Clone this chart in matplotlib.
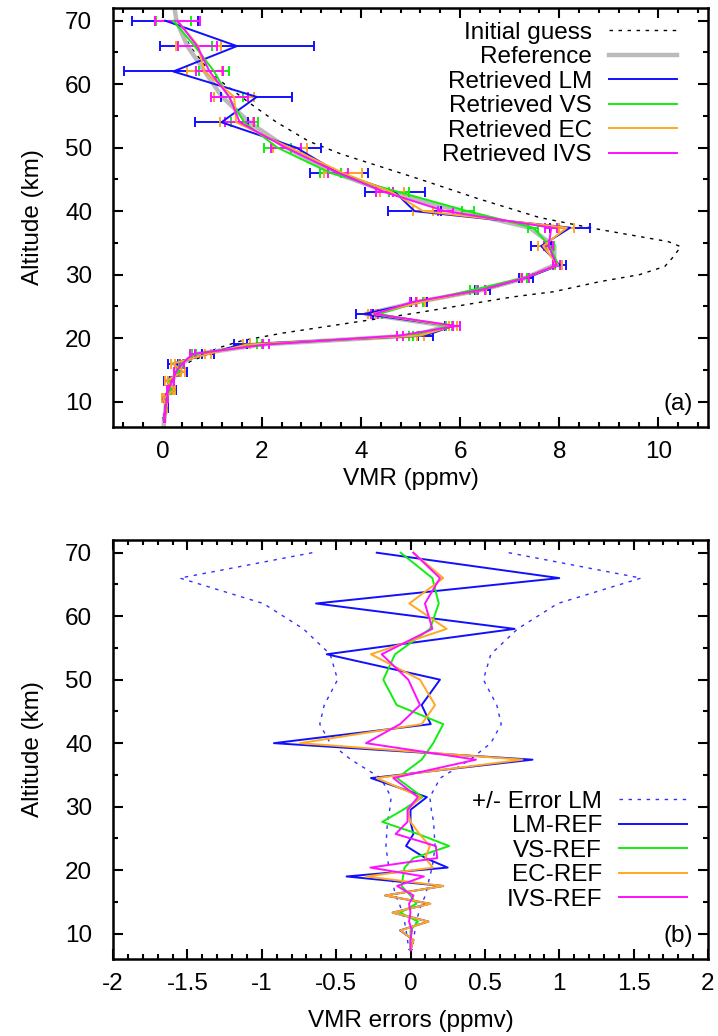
import numpy as np
import matplotlib
matplotlib.use('Agg')
from matplotlib import pyplot as plt
from matplotlib.ticker import MultipleLocator

plt.rcParams['font.family'] = ['Liberation Sans', 'DejaVu Sans']
plt.rcParams['axes.unicode_minus'] = False

# retrieval altitude grid (km)
alt = [70, 66, 62, 58, 54, 50, 46, 43, 40, 37.4, 34.5, 31.5, 29.5, 27.6, 25.7, 23.8,
       21.9, 20.4, 19.0, 17.5, 16.0, 14.7, 13.3, 11.9, 10.5, 9.0, 7.4]

# reference profile (ppmv), with its two end points above/below the grid
ref_alt = [74] + alt + [6]
ref_vmr = [0.2, 0.28, 0.5, 0.85, 1.2, 1.75, 2.5, 3.48, 4.55, 6.0, 7.4, 7.9, 7.9, 7.33,
           6.45, 5.15, 4.1, 5.75, 5.05, 2.0, 0.7, 0.38, 0.28, 0.2, 0.12, 0.08, 0.06,
           0.04, 0.02]

# initial guess
ig_alt = [72, 70, 66, 62, 60, 57, 54, 51, 49, 47, 45, 42, 39, 37.3, 36, 35.2, 34.4,
          32.8, 31.3, 30, 28.9, 27.3, 26.5, 25.2, 23.9, 22.3, 20.8, 19.6, 18.4, 17.1,
          16.3, 15, 13, 11, 9, 6]
ig_vmr = [0.22, 0.3, 0.55, 0.95, 1.25, 1.76, 2.3, 2.95, 3.6, 4.4, 5.2, 6.35, 7.6, 8.68,
          9.62, 10.2, 10.45, 10.3, 10.13, 9.62, 8.82, 7.88, 7.07, 6.06, 5.07, 3.7, 2.43,
          1.6, 1.1, 0.8, 0.55, 0.35, 0.2, 0.1, 0.06, 0.03]

# retrieved minus reference (ppmv)
d_lm = [-0.227, 1.0, -0.635, 0.70, -0.563, 0.198, 0.075, 0.136, -0.918, 0.82, -0.266,
        0.11, 0.0, 0.0, 0.02, -0.03, 0.1, 0.25, -0.43, 0.22, -0.17, 0.13, -0.12, 0.12,
        -0.07, 0.02, 0.0]
d_vs = [-0.066, 0.147, 0.19, 0.131, -0.104, -0.183, -0.093, 0.22, 0.153, 0.075, -0.09,
        0.08, -0.05, -0.19, 0.05, 0.26, 0.02, -0.04, -0.05, -0.06, 0.0, 0.04, -0.07, 0.05,
        0.0, 0.0, 0.0]
d_ec = [0.019, 0.22, -0.008, 0.243, -0.266, 0.064, 0.165, 0.075, -0.743, 0.753, -0.227,
        0.07, -0.02, 0.0, 0.06, 0.13, 0.1, 0.15, -0.3, 0.22, -0.17, 0.135, -0.12, 0.12,
        -0.067, 0.02, 0.0]
d_ivs = [0.019, 0.198, 0.097, 0.147, -0.194, -0.015, 0.064, -0.07, -0.299, 0.44, -0.116,
         0.05, -0.02, -0.02, -0.1, 0.17, 0.18, -0.27, 0.09, -0.09, 0.02, -0.01, 0.0,
         -0.01, 0.01, 0.0, 0.0]

# retrieval errors (ppmv)
err_lm = [0.66, 1.55, 0.99, 0.72, 0.54, 0.49, 0.58, 0.61, 0.54, 0.40, 0.2, 0.13, 0.14,
          0.155, 0.16, 0.165, 0.155, 0.145, 0.13, 0.115, 0.1, 0.075, 0.055, 0.04, 0.03,
          0.02, 0.01]
err_vs = [0.35, 0.35, 0.3, 0.3, 0.27, 0.28, 0.22, 0.2, 0.12, 0.1, 0.08, 0.06, 0.06, 0.06,
          0.06, 0.06, 0.06, 0.05, 0.05, 0.04, 0.04, 0.03, 0.03, 0.02, 0.02, 0.01, 0.01]
err_ec = [0.45, 0.45, 0.35, 0.4, 0.33, 0.34, 0.38, 0.25, 0.2, 0.15, 0.1, 0.08, 0.08, 0.08,
          0.08, 0.08, 0.08, 0.07, 0.07, 0.06, 0.05, 0.04, 0.03, 0.02, 0.02, 0.01, 0.01]
err_ivs = [0.45, 0.39, 0.27, 0.37, 0.29, 0.3, 0.2, 0.17, 0.15, 0.12, 0.09, 0.07, 0.07,
           0.07, 0.07, 0.07, 0.07, 0.06, 0.06, 0.05, 0.04, 0.035, 0.03, 0.02, 0.02, 0.01,
           0.01]

ref_on_grid = np.array(ref_vmr[1:-1])
runs = [
    ('LM', d_lm, err_lm, '#1010ff'),
    ('VS', d_vs, err_vs, '#10ee10'),
    ('EC', d_ec, err_ec, '#ffa820'),
    ('IVS', d_ivs, err_ivs, '#ff10ff'),
]

FS = 17.5


def style_axis(ax, xmaj, xmin):
    ax.set_ylim(6, 72)
    ax.yaxis.set_major_locator(MultipleLocator(10))
    ax.yaxis.set_minor_locator(MultipleLocator(5))
    ax.xaxis.set_major_locator(MultipleLocator(xmaj))
    ax.xaxis.set_minor_locator(MultipleLocator(xmin))
    ax.tick_params(which='both', direction='in', top=True, right=True, width=1.5,
                   labelsize=FS)
    ax.tick_params(axis='x', pad=10)
    ax.tick_params(axis='y', pad=15)
    ax.tick_params(which='major', length=7)
    ax.tick_params(which='minor', length=3.5)
    for s in ax.spines.values():
        s.set_linewidth(1.8)
    ax.set_ylabel('Altitude (km)', fontsize=FS, labelpad=15)


fig = plt.figure(figsize=(7.18, 10.36), dpi=100)
ax1 = fig.add_axes([113 / 718, 1 - 427 / 1036, 595 / 718, 419 / 1036])
ax2 = fig.add_axes([113 / 718, 1 - 959 / 1036, 595 / 718, 419 / 1036])

# (a) profiles
ax1.plot(ig_vmr, ig_alt, color='black', lw=1.0, ls=(0, (2.5, 4)), label='Initial guess')
ax1.plot(ref_vmr, ref_alt, color='#bbbbbb', lw=3.2, label='Reference')
for name, d, e, c in runs:
    vmr = ref_on_grid + np.array(d)
    ax1.errorbar(vmr, alt, xerr=e, color=c, lw=1.4, elinewidth=1.4, capsize=3.5,
                 capthick=1.4, label='Retrieved ' + name)

ax1.set_xlim(-1, 11)
style_axis(ax1, 2, 0.4)
ax1.set_xlabel('VMR (ppmv)', fontsize=FS, labelpad=4)
h, l = ax1.get_legend_handles_labels()
h = [hh[0] if hasattr(hh, 'lines') else hh for hh in h]
ax1.legend(h, l, loc='upper right', bbox_to_anchor=(0.948, 0.967), frameon=False,
           markerfirst=False, fontsize=FS, handlelength=2.8, handletextpad=0.7,
           labelspacing=0.1, borderpad=0, borderaxespad=0)
ax1.text(0.975, 0.055, '(a)', transform=ax1.transAxes, ha='right', va='center',
         fontsize=FS)

# (b) differences
ax2.plot(err_lm, alt, color='#3030ff', lw=1.0, ls=(0, (2.5, 4)), label='+/- Error LM')
ax2.plot(-np.array(err_lm), alt, color='#3030ff', lw=1.0, ls=(0, (2.5, 4)))
for name, d, e, c in runs:
    ax2.plot(d, alt, color=c, lw=1.4, label=name + '-REF')

ax2.set_xlim(-2, 2)
style_axis(ax2, 0.5, 0.1)
ax2.set_xticks([-2, -1.5, -1, -0.5, 0, 0.5, 1, 1.5, 2])
ax2.set_xticklabels(['-2', '-1.5', '-1', '-0.5', '0', '0.5', '1', '1.5', '2'])
ax2.set_xlabel('VMR errors (ppmv)', fontsize=FS, labelpad=11)
ax2.legend(loc='upper right', bbox_to_anchor=(0.965, 0.401), frameon=False,
           markerfirst=False, fontsize=FS, handlelength=2.8, handletextpad=0.7,
           labelspacing=0.1, borderpad=0, borderaxespad=0)
ax2.text(0.975, 0.055, '(b)', transform=ax2.transAxes, ha='right', va='center',
         fontsize=FS)

fig.savefig('out.png', dpi=100)
